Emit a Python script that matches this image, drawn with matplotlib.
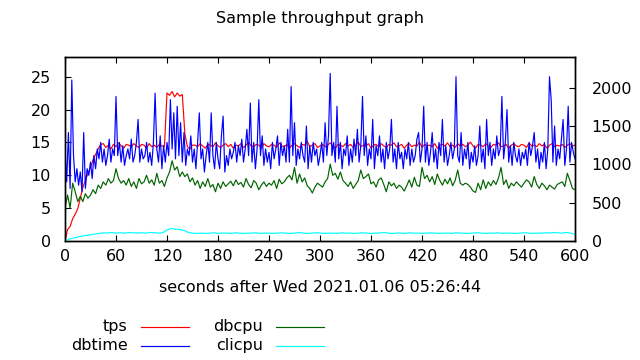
import numpy as np
import matplotlib
matplotlib.use("Agg")
import matplotlib.pyplot as plt
from matplotlib.lines import Line2D

plt.rcParams['font.family'] = ['DejaVu Sans']

# ---------------- data ----------------
title = "Sample throughput graph"
xlabel = "seconds after Wed 2021.01.06 05:26:44"
series_names = ["tps", "dbtime", "dbcpu", "clicpu"]
series_colors = ["#ff0000", "#0000ff", "#006400", "#00ffff"]
x_ticks = [0, 60, 120, 180, 240, 300, 360, 420, 480, 540, 600]
y1_ticks = [0, 5, 10, 15, 20, 25]
y2_ticks = [0, 500, 1000, 1500, 2000]

t_dbtime = np.arange(0, 601, 2)
dbtime = [14, 9, 16.5, 8, 24.5, 13, 9, 11, 8.5, 10.5, 7.5,
          16.5, 8, 11, 10, 12, 9.5, 13, 11, 14, 12.5,
          15, 12, 14, 11.5, 13, 15.5, 12, 14, 13, 22,
          13, 15, 12, 14.5, 11.5, 13, 14, 12.5, 15.5, 12,
          13, 15, 18.5, 12, 14, 12.5, 13, 15, 12, 13.5,
          11.5, 15, 22.5, 14, 12, 16, 11, 14.5, 12, 15,
          13, 21.5, 14, 19.5, 12.5, 20.5, 13, 18, 12, 16.5,
          11.5, 14, 13, 16, 12, 14, 11, 15, 19.5, 12.5,
          14, 10.5, 13, 15, 12, 19.5, 13, 11, 15, 12.5,
          11, 16, 19, 10.5, 13, 11.5, 14, 12.5, 13.5, 15,
          12, 14.5, 13, 15.5, 12, 14, 17, 13, 21, 12,
          15, 11, 14, 21.5, 13, 16, 11.5, 14, 12, 13.5,
          11, 15, 12.5, 14, 16, 11.5, 15, 13, 14.5, 12,
          17, 12, 23.5, 13, 18, 11.5, 14, 12.5, 15, 13,
          12, 17.5, 11, 14.5, 12, 15, 13, 14, 11.5, 13,
          15, 12, 18, 13, 16, 25.5, 13, 15, 12, 20.5,
          12.5, 15, 11, 14, 13, 16, 11.5, 14, 12, 15.5,
          13, 17, 12, 14.5, 22, 13, 16, 11.5, 14, 12.5,
          18.5, 11, 14.5, 13, 16, 12, 14, 11, 15, 12.5,
          14, 18.5, 12, 14, 11, 15, 12.5, 13.5, 11, 14,
          12.5, 15, 11.5, 14, 12, 13, 15.5, 16.5, 12, 14,
          20.5, 12, 15, 11.5, 13.5, 16.5, 12, 14, 11, 15,
          13, 18.5, 12, 14.5, 11.5, 13, 15, 12.5, 14, 25,
          13, 12, 16.5, 11.5, 14, 12.5, 15, 11, 13.5, 12,
          14.5, 11.5, 13, 17.5, 12, 14, 11, 18.5, 13, 15,
          11.5, 14, 12.5, 16, 13, 14, 22, 12.5, 15, 20,
          12, 14.5, 11.5, 15, 13, 12, 14, 11.5, 13.5, 12.5,
          14, 11.5, 15, 13, 14.5, 16.5, 12, 14, 11, 13.5,
          12, 15, 11, 14, 25, 21.5, 12, 17.5, 11.5, 14,
          12.5, 15.5, 18.5, 11.5, 14, 20.5, 12, 15, 13.5, 12.5]

t_tps = np.arange(0, 601, 3)
tps = [0, 150, 190, 290, 350, 420, 560, 700, 790, 880, 960, 1060, 1130, 1200, 1260,
       1270, 1220, 1250, 1200, 1260, 1230, 1280, 1240, 1210, 1260, 1250, 1230, 1270,
       1240, 1220, 1260, 1250, 1210, 1270, 1230, 1250, 1220, 1260, 1240, 1230,
       1930, 1900, 1950, 1880, 1930, 1890, 1910,
       1400, 1230, 1200, 1250,
       1250, 1230, 1270, 1240, 1210, 1260, 1250, 1230, 1280, 1240,
       1220, 1250, 1270, 1230, 1260, 1210, 1250, 1240, 1270, 1220,
       1250, 1290, 1240, 1230, 1260, 1250, 1210, 1270, 1240, 1230,
       1260, 1250, 1220, 1280, 1240, 1230, 1260, 1210, 1250, 1270,
       1240, 1220, 1260, 1250, 1300, 1230, 1250, 1270, 1220, 1240,
       1260, 1230, 1250, 1280, 1240, 1210, 1260, 1250, 1230, 1270,
       1240, 1260, 1220, 1250, 1290, 1230, 1250, 1240, 1270, 1210,
       1250, 1260, 1230, 1270, 1240, 1220, 1260, 1250, 1280, 1230,
       1240, 1260, 1210, 1250, 1270, 1230, 1250, 1240, 1290, 1220,
       1260, 1240, 1250, 1230, 1270, 1210, 1250, 1260, 1240, 1280,
       1230, 1250, 1220, 1270, 1240, 1260, 1230, 1250, 1290, 1240,
       1210, 1260, 1250, 1230, 1270, 1240, 1220, 1260, 1250, 1280,
       1230, 1240, 1260, 1210, 1250, 1270, 1240, 1230, 1260, 1250,
       1220, 1280, 1240, 1250, 1230, 1270, 1240, 1260, 1210, 1250,
       1270, 1230, 1250, 1240, 1260, 1220, 1250, 1270, 1240, 1250]

t_dbcpu = np.arange(0, 601, 3)
dbcpu = [5.0, 7.0, 5.0, 8.8, 7.5, 6.0, 6.8, 6.0, 7.2, 6.5, 7.0,
         7.8, 7.2, 8.5, 8.0, 9.0, 8.5, 9.5, 8.8, 9.2, 11.0,
         9.5, 8.8, 9.2, 8.5, 9.5, 8.3, 9.0, 8.0, 9.5, 8.7,
         9.0, 10.0, 8.8, 9.3, 8.5, 10.3, 8.8, 9.2, 8.3, 9.6,
         10.5, 12.2, 10.8, 11.3, 9.8, 10.5, 9.8, 10.2, 9.0, 9.6,
         8.5, 9.2, 8.0, 9.0, 8.3, 9.5, 8.2, 8.6, 7.5, 8.8,
         8.0, 9.0, 8.3, 8.7, 9.1, 8.4, 9.3, 8.6, 8.9, 8.2,
         9.5, 8.6, 8.1, 9.2, 8.8, 7.8, 8.5, 9.0, 8.3, 8.8,
         8.5, 9.2, 8.0, 9.4, 8.7, 9.0, 9.6, 10.0, 9.3, 11.2,
         8.8, 10.2, 9.0, 9.6, 8.4, 8.0, 7.3, 8.2, 8.8, 8.5,
         8.2, 9.0, 9.5, 11.7, 10.0, 10.3, 9.4, 10.5, 9.2, 8.8,
         8.3, 9.0, 8.0, 8.6, 9.2, 10.8, 9.5, 9.8, 10.2, 8.7,
         9.0, 8.2, 9.3, 9.6, 8.6, 7.5, 9.0, 8.4, 8.8, 8.0,
         8.5, 8.2, 7.6, 8.4, 9.3, 8.2, 9.7, 8.5, 8.3, 11.2,
         9.5, 10.0, 9.0, 9.8, 8.6, 10.2, 9.2, 8.5, 9.4, 8.7,
         9.6, 8.4, 9.2, 10.8, 8.8, 8.5, 8.8, 8.6, 8.2, 7.6,
         7.4, 8.8, 7.8, 9.3, 8.0, 9.0, 8.4, 9.2, 8.6, 9.6,
         11.2, 8.6, 9.3, 8.0, 8.8, 8.4, 9.0, 8.6, 8.2, 8.8,
         9.3, 9.0, 8.2, 9.8, 8.6, 8.0, 8.8, 8.4, 7.8, 8.5,
         8.2, 7.9, 8.6, 8.8, 9.0, 8.3, 10.3, 9.2, 8.0, 7.8]

t_clicpu = np.arange(0, 601, 5)
clicpu = [0.0, 0.3, 0.45, 0.6, 0.75, 0.85, 0.95, 1.05, 1.15,
          1.25, 1.2, 1.3, 1.2, 1.25, 1.2, 1.3, 1.25, 1.2, 1.25, 1.2, 1.3, 1.25, 1.2, 1.25,
          1.7, 1.9, 1.8, 1.75, 1.6,
          1.3, 1.2, 1.15, 1.2, 1.15, 1.2, 1.25, 1.15, 1.2, 1.2,
          1.15, 1.25, 1.2, 1.15, 1.2, 1.2, 1.25, 1.15, 1.2, 1.2,
          1.15, 1.2, 1.25, 1.2, 1.15, 1.2, 1.3, 1.2, 1.15, 1.2,
          1.25, 1.2, 1.15, 1.2, 1.2, 1.15, 1.25, 1.2, 1.2, 1.15,
          1.2, 1.25, 1.2, 1.15, 1.2, 1.2, 1.3, 1.2, 1.15, 1.2,
          1.2, 1.15, 1.25, 1.2, 1.2, 1.15, 1.2, 1.25, 1.2, 1.15,
          1.2, 1.2, 1.15, 1.25, 1.2, 1.2, 1.15, 1.2, 1.25, 1.2,
          1.15, 1.2, 1.2, 1.25, 1.15, 1.2, 1.2, 1.15, 1.2, 1.25,
          1.2, 1.15, 1.2, 1.2, 1.25, 1.2, 1.3, 1.25, 1.2, 1.3,
          1.2, 1.0]

# ---------------- figure ----------------
W, H = 640, 360
fig = plt.figure(figsize=(6.4, 3.6), dpi=100)
L, R, T, B = 65, 575, 57, 241
ax = fig.add_axes([L / W, 1 - B / H, (R - L) / W, (B - T) / H])
ax2 = ax.twinx()

FS = 11.5
lw = 0.85

ax2.plot(t_tps, tps, color=series_colors[0], lw=lw)
ax.plot(t_dbtime, dbtime, color=series_colors[1], lw=lw)
ax.plot(t_dbcpu, dbcpu, color=series_colors[2], lw=lw)
ax.plot(t_clicpu, clicpu, color=series_colors[3], lw=lw)

ax.set_zorder(ax2.get_zorder() + 1)
ax.patch.set_visible(False)

ax.set_xlim(0, 600)
ax.set_ylim(0, 28)
ax2.set_ylim(0, 2400)

ax.set_xticks(x_ticks)
ax.set_yticks(y1_ticks)
ax2.set_yticks(y2_ticks)

for a in (ax, ax2):
    for s in a.spines.values():
        s.set_linewidth(1.0)
        s.set_color("black")

ax.tick_params(axis='x', direction='in', top=True, bottom=True, length=4, width=0.8,
               labelsize=FS, pad=6, colors='black')
ax.tick_params(axis='y', direction='in', left=True, right=False, length=4, width=0.8,
               labelsize=FS, pad=10)
ax2.tick_params(axis='y', direction='in', right=True, left=False, length=4, width=0.8,
                labelsize=FS, pad=12)
ax2.tick_params(axis='x', top=False, bottom=False)

ax.set_title(title, fontsize=FS, y=1 + (T - 27) / (B - T), va='center')
ax.set_xlabel(xlabel, fontsize=FS)
ax.xaxis.label.set_va('center')
ax.xaxis.set_label_coords(0.5, -(287 - B) / (B - T))

# key (gnuplot style, bottom)
key_rows = [(0, 127, 141, 189, 326.5), (1, 128, 141, 189, 345.5),
            (2, 263, 276, 324, 326.5), (3, 263, 276, 324, 345.5)]
for idx, xt, x0, x1, yy in key_rows:
    fig.text(xt / W, 1 - yy / H, series_names[idx], ha='right', va='center', fontsize=FS)
    fig.add_artist(Line2D([x0 / W, x1 / W], [1 - yy / H, 1 - yy / H],
                          transform=fig.transFigure, color=series_colors[idx], lw=lw))

fig.savefig("out.png", dpi=100)
